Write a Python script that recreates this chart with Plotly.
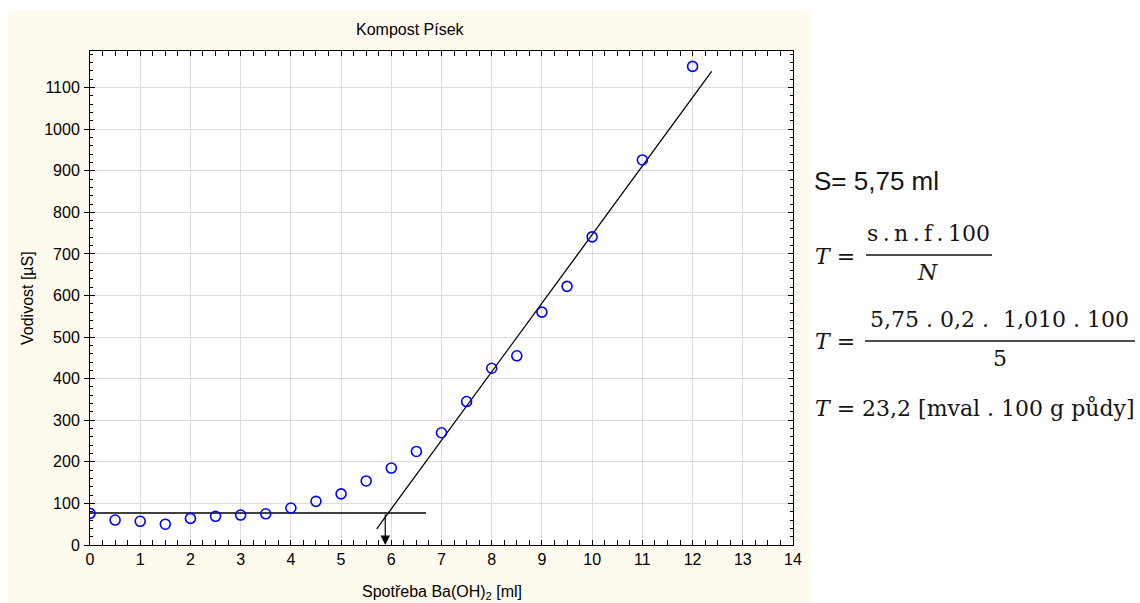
import plotly.graph_objects as go

# Titration: conductivity vs. consumed Ba(OH)2
x_ml = [0, 0.5, 1, 1.5, 2, 2.5, 3, 3.5, 4, 4.5, 5, 5.5, 6, 6.5, 7, 7.5, 8, 8.5, 9, 9.5, 10, 11, 12]
vodivost = [76, 60, 57, 50, 64, 69, 72, 75, 89, 105, 123, 154, 185, 225, 270, 345, 425, 455, 560, 622, 741, 926, 1151]

# Fitted lines: flat part and steep part
flat_x = [0, 6.69]
flat_y = [77, 77]
steep_x = [5.71, 12.38]
steep_y = [39, 1139]

# Equivalence point marker
arrow_x = 5.88
arrow_top = 77

x_ticks = list(range(0, 15))
y_ticks = list(range(0, 1101, 100))

title_text = "Kompost Písek"
x_title = "Spotřeba Ba(OH)<sub>2</sub> [ml]"
y_title = "Vodivost [µS]"

W, H = 1140, 603
L, R, T, B = 90, 793, 51, 545
SANS = "Liberation Sans, Arial, sans-serif"
SERIF = "DejaVu Serif, serif"
TXT = "#151515"
TS = "\u2009"  # thin space


def px(xp):
    return (xp - L) / (R - L)


def py(yp):
    return (B - yp) / (B - T)


fig = go.Figure()

fig.add_trace(go.Scatter(x=flat_x, y=flat_y, mode="lines",
                         line=dict(color="black", width=1.3), showlegend=False))
fig.add_trace(go.Scatter(x=steep_x, y=steep_y, mode="lines",
                         line=dict(color="black", width=1.3), showlegend=False))
fig.add_trace(go.Scatter(x=x_ml, y=vodivost, mode="markers",
                         marker=dict(symbol="circle-open", size=10, color="#0000FF",
                                     line=dict(width=1.6, color="#0000FF")),
                         showlegend=False))
# carrier for the outer tick set on the left axis
fig.add_trace(go.Scatter(x=[None], y=[None], yaxis="y2", showlegend=False))

shapes = [
    # cream chart panel
    dict(type="rect", xref="paper", yref="paper", x0=px(8), x1=px(811), y0=py(603), y1=py(10),
         fillcolor="#FEFAEE", line=dict(width=0), layer="below"),
    # white plotting area
    dict(type="rect", xref="paper", yref="paper", x0=0, x1=1, y0=0, y1=1,
         fillcolor="white", line=dict(width=0), layer="below"),
    # fraction bars
    dict(type="line", xref="paper", yref="paper", x0=px(866), x1=px(992), y0=py(255), y1=py(255),
         line=dict(color=TXT, width=1.5)),
    dict(type="line", xref="paper", yref="paper", x0=px(865), x1=px(1135), y0=py(341), y1=py(341),
         line=dict(color=TXT, width=1.5)),
]

ann = [
    dict(text=title_text, x=px(410), y=py(30), xref="paper", yref="paper", showarrow=False,
         xanchor="center", yanchor="middle", font=dict(family=SANS, size=16, color="black")),
    dict(text=x_title, x=px(441.5), y=py(592), xref="paper", yref="paper", showarrow=False,
         xanchor="center", yanchor="middle", font=dict(family=SANS, size=16, color="black")),
    dict(text=y_title, x=px(27), y=py(298), xref="paper", yref="paper", showarrow=False,
         textangle=-90, xanchor="center", yanchor="middle", font=dict(family=SANS, size=16, color="black")),
    # arrow at the equivalence point
    dict(x=arrow_x, y=0, ax=arrow_x, ay=arrow_top, xref="x", yref="y", axref="x", ayref="y",
         text="", showarrow=True, arrowhead=2, arrowsize=1.6, arrowwidth=1.2, arrowcolor="black"),
    # result text
    dict(text="S= 5,75 ml", x=px(812), y=py(181), xref="paper", yref="paper", showarrow=False,
         xanchor="left", yanchor="middle", font=dict(family=SANS, size=26, color=TXT)),
    dict(text="<i>T</i> =", x=px(813), y=py(256), xref="paper", yref="paper", showarrow=False,
         xanchor="left", yanchor="middle", font=dict(family=SERIF, size=22, color=TXT)),
    dict(text=f"s{TS}.{TS}n{TS}.{TS}f{TS}.{TS}100", x=px(929), y=py(233), xref="paper", yref="paper",
         showarrow=False, xanchor="center", yanchor="middle", font=dict(family=SERIF, size=22, color=TXT)),
    dict(text="<i>N</i>", x=px(927), y=py(272), xref="paper", yref="paper", showarrow=False,
         xanchor="center", yanchor="middle", font=dict(family=SERIF, size=22, color=TXT)),
    dict(text="<i>T</i> =", x=px(813), y=py(341), xref="paper", yref="paper", showarrow=False,
         xanchor="left", yanchor="middle", font=dict(family=SERIF, size=22, color=TXT)),
    dict(text="5,75 . 0,2 .\u00a0 1,010 . 100", x=px(999), y=py(319), xref="paper", yref="paper",
         showarrow=False, xanchor="center", yanchor="middle", font=dict(family=SERIF, size=22, color=TXT)),
    dict(text="5", x=px(1000), y=py(358), xref="paper", yref="paper", showarrow=False,
         xanchor="center", yanchor="middle", font=dict(family=SERIF, size=22, color=TXT)),
    dict(text="<i>T</i> = 23,2 [mval . 100 g půdy]", x=px(813), y=py(408), xref="paper", yref="paper",
         showarrow=False, xanchor="left", yanchor="middle", font=dict(family=SERIF, size=22, color=TXT)),
]

fig.update_layout(
    width=W, height=H,
    margin=dict(l=L, r=W - R, t=T, b=H - B, pad=0),
    paper_bgcolor="white", plot_bgcolor="white",
    shapes=shapes, annotations=ann,
    showlegend=False,
    xaxis=dict(range=[0, 14], tickvals=x_ticks, ticktext=[str(v) for v in x_ticks],
               showgrid=True, gridcolor="#DCDCDC", gridwidth=1, zeroline=False,
               showline=True, linecolor="black", linewidth=1, mirror="allticks",
               ticks="inside", ticklen=5, tickcolor="black",
               minor=dict(dtick=0.25, ticks="inside", ticklen=3, tickcolor="black", showgrid=False),
               tickfont=dict(family=SANS, size=16, color="black")),
    yaxis=dict(range=[0, 1188], tickvals=y_ticks, ticktext=[str(v) for v in y_ticks],
               showgrid=True, gridcolor="#DCDCDC", gridwidth=1, zeroline=False,
               showline=True, linecolor="black", linewidth=1, mirror="allticks",
               ticks="inside", ticklen=5, tickcolor="black", ticklabelstandoff=6,
               minor=dict(dtick=20, ticks="inside", ticklen=3, tickcolor="black", showgrid=False),
               tickfont=dict(family=SANS, size=16, color="black")),
    yaxis2=dict(range=[0, 1188], overlaying="y", side="left", tickvals=y_ticks,
                showticklabels=False, showgrid=False, zeroline=False, showline=False,
                ticks="outside", ticklen=5, tickcolor="black"),
)

fig.write_html("out.html")
